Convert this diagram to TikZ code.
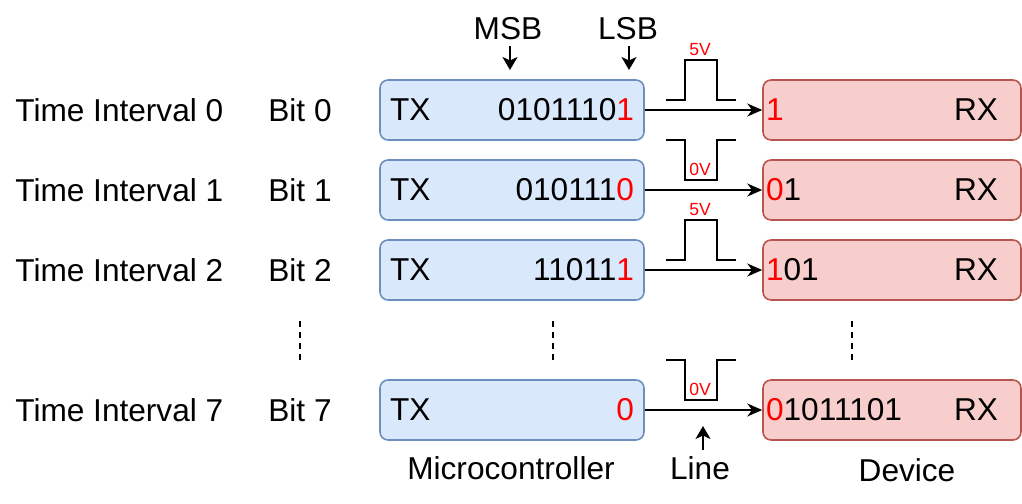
\documentclass[tikz,border=0pt]{standalone}
\usepackage{fontspec}
\setmainfont{Liberation Sans}
\usetikzlibrary{arrows.meta}
\definecolor{txfill}{HTML}{DAE8FC}
\definecolor{txdraw}{HTML}{6C8EBF}
\definecolor{rxfill}{HTML}{F8CECC}
\definecolor{rxdraw}{HTML}{B85450}
\definecolor{bitred}{HTML}{FF0000}

\begin{document}
\begin{tikzpicture}[x=0.02cm,y=-0.02cm,>={Stealth[length=0.3cm,width=0.26cm]},
  every node/.style={font=\fontsize{18}{22}\selectfont},
  txbox/.style={draw=txdraw,fill=txfill,line width=0.9pt,rounded corners=0.16cm,
    minimum width=5.28cm,minimum height=1.2cm,inner xsep=0.2cm,inner ysep=0pt},
  rxbox/.style={draw=rxdraw,fill=rxfill,line width=0.9pt,rounded corners=0.16cm,
    minimum width=5.16cm,minimum height=1.2cm,inner xsep=0.06cm,inner ysep=0pt},
  rowlabel/.style={anchor=west,inner xsep=0pt},
  volt/.style={text=bitred,font=\fontsize{10}{12}\selectfont,inner sep=0pt},
  wire/.style={line width=1.1pt},
  pointer/.style={line width=1.1pt,-{Stealth[length=0.26cm,width=0.3cm,inset=0.07cm]}},
  dots/.style={line width=1pt,dash pattern=on 0.12cm off 0.1cm}]
  \useasboundingbox (0,0) rectangle (1022,504);
  \foreach \r/\y/\txb/\txr/\rxr/\rxb in {0/110/0101110/1/1/{},1/190/010111/0/0/1,2/270/11011/1/1/01,7/410/{}/0/0/1011101}
  {
    \node[rowlabel] (int\r) at (15,\y) {Time Interval \r};
    \node[rowlabel] (bit\r) at (268,\y) {Bit \r};
    \node[txbox] (tx\r) at (512,\y) {\makebox[4.88cm]{TX\hfill\txb\textcolor{bitred}{\txr}}};
    \node[rxbox] (rx\r) at (892,\y) {\makebox[5.04cm]{\textcolor{bitred}{\rxr}\rxb\hfill RX\hspace{0.4cm}}};
    \draw[wire,->] (tx\r) -- (rx\r);
  }
  \foreach \r/\a/\b/\ly/\v in {0/100/60/50/5V,1/140/180/169/0V,2/260/220/210/5V,7/360/400/389/0V}
  {
    \draw[wire] (666,\a) -- (685,\a) -- (685,\b) -- (717,\b) -- (717,\a) -- (736,\a);
    \node[volt] (volt\r) at (700,\ly) {\v};
  }
  \foreach \x in {300,553,852}
  {
    \draw[dots] (\x,321) -- (\x,361);
  }
  \node (msb) at (508,29) {MSB};
  \node (lsb) at (628,29) {LSB};
  \coordinate (msbtip) at (510,70);
  \coordinate (lsbtip) at (629,70);
  \draw[pointer] (msb.south -| msbtip) -- (msbtip);
  \draw[pointer] (lsb.south -| lsbtip) -- (lsbtip);
  \node (mcu) at (511,468) {Microcontroller};
  \node (line) at (700,468) {Line};
  \node (dev) at (907,470) {Device};
  \coordinate (linetip) at (703,426);
  \draw[pointer] (line.north -| linetip) -- (linetip);
\end{tikzpicture}
\end{document}
